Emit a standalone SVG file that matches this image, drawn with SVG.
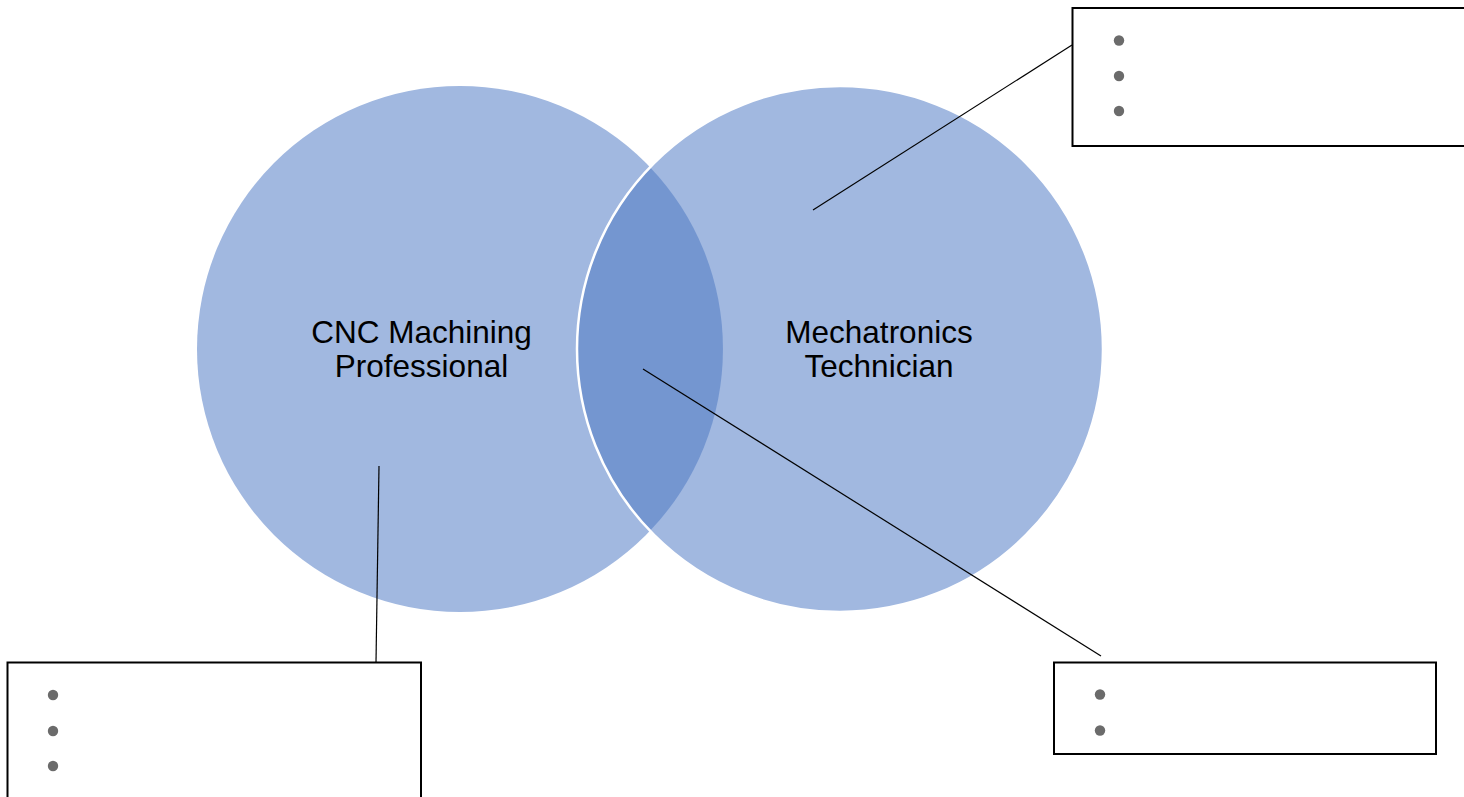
<svg xmlns="http://www.w3.org/2000/svg" width="1464" height="797" viewBox="0 0 1464 797">
<style>
.circ{fill:#A1B8E0}
.lens{fill:#7496D0}
.lbl{font-family:"Liberation Sans",Arial,sans-serif;font-size:31.5px;fill:#000;text-anchor:middle}
.box{fill:#fff;stroke:#000;stroke-width:2}
.dot{fill:#6b6b6b}
.conn{stroke:#000;stroke-width:1.2;fill:none}
</style>
<rect width="1464" height="797" fill="#fff"/>
<g id="venn">
<circle id="left-circle" class="circ" cx="460" cy="349" r="263"/>
<circle id="right-circle" class="circ" cx="840" cy="349" r="263"/>
<path id="overlap" class="lens" d="M650 167.2 A263 263 0 0 1 650 530.8 A263 263 0 0 1 650 167.2 Z"/>
<circle cx="840" cy="349" r="263" fill="none" stroke="#fff" stroke-width="2.5"/>
</g>
<g id="label-cnc">
<text class="lbl" x="421.5" y="342.5">CNC Machining</text>
<text class="lbl" x="421.5" y="376.5">Professional</text>
</g>
<g id="label-mech">
<text class="lbl" x="879" y="342.5">Mechatronics</text>
<text class="lbl" x="879" y="376.5">Technician</text>
</g>
<g id="connectors">
<line class="conn" x1="1072" y1="45" x2="813" y2="210"/>
<line class="conn" x1="379" y1="466" x2="376" y2="662"/>
<line class="conn" x1="643" y1="369" x2="1101" y2="656"/>
</g>
<g id="box-top-right">
<rect class="box" x="1072.5" y="8" width="400" height="138"/>
<circle class="dot" cx="1119" cy="40.5" r="5.2"/>
<circle class="dot" cx="1119" cy="76" r="5.2"/>
<circle class="dot" cx="1119" cy="111" r="5.2"/>
</g>
<g id="box-bottom-left">
<rect class="box" x="7.5" y="662.5" width="413.5" height="150"/>
<circle class="dot" cx="53" cy="695" r="5.2"/>
<circle class="dot" cx="53" cy="731" r="5.2"/>
<circle class="dot" cx="53" cy="766" r="5.2"/>
</g>
<g id="box-bottom-right">
<rect class="box" x="1054" y="662.5" width="382" height="91.5"/>
<circle class="dot" cx="1100" cy="694.5" r="5.2"/>
<circle class="dot" cx="1100" cy="730.5" r="5.2"/>
</g>
</svg>
